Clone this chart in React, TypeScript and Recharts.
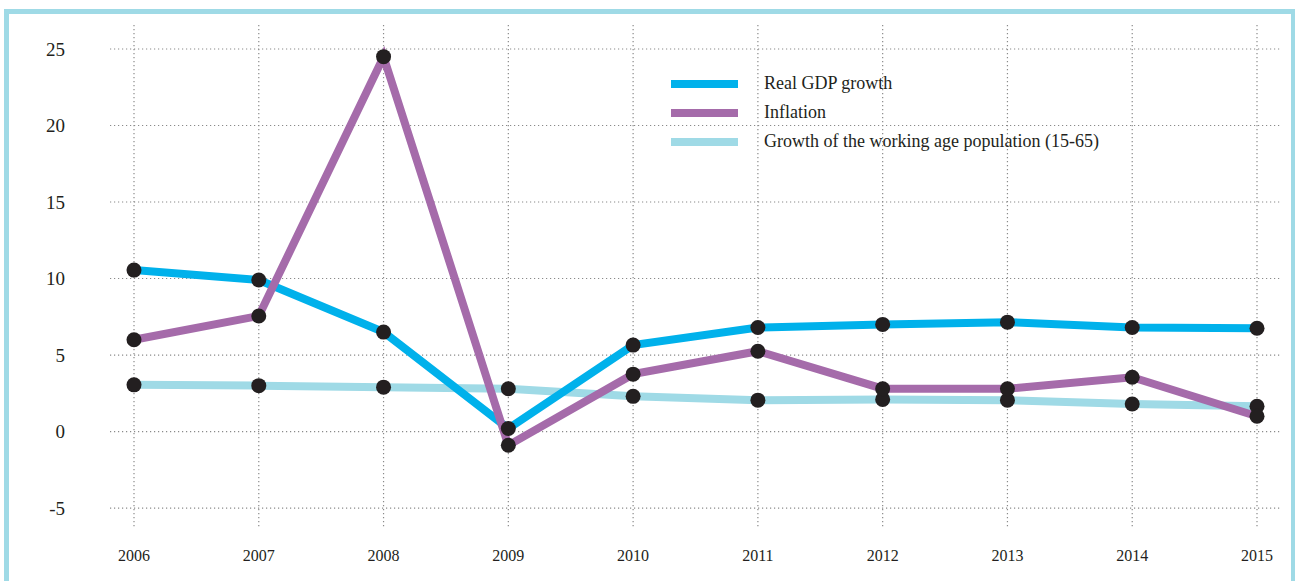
import React from 'react';
import { LineChart, Line, XAxis, YAxis, CartesianGrid, Legend } from 'recharts';

const years = ['2006', '2007', '2008', '2009', '2010', '2011', '2012', '2013', '2014', '2015'];
const gdpGrowth = [10.55, 9.9, 6.5, 0.2, 5.65, 6.8, 7.0, 7.15, 6.8, 6.75];
const inflation = [6.0, 7.55, 24.5, -0.9, 3.75, 5.25, 2.8, 2.8, 3.55, 1.0];
const workingAgePop = [3.05, 3.0, 2.9, 2.8, 2.3, 2.05, 2.1, 2.05, 1.8, 1.65];
const yTicks = [-5, 0, 5, 10, 15, 20, 25];

const seriesNames = ['Real GDP growth', 'Inflation', 'Growth of the working age population (15-65)'];
const seriesKeys = ['gdp', 'inflation', 'pop'];
const seriesColors = ['#00b1eb', '#a56baa', '#9fdae6'];

const data = years.map((year, i) => ({
  year,
  gdp: gdpGrowth[i],
  inflation: inflation[i],
  pop: workingAgePop[i],
}));

const FONT = '"Liberation Serif", "DejaVu Serif", serif';
const DOT = { r: 7.5, fill: '#231f20', stroke: 'none' };

const LegendContent = () => (
  <div style={{ fontFamily: FONT, fontSize: 18, color: '#231f20' }}>
    {seriesNames.map((name, i) => (
      <div key={name} style={{ display: 'flex', alignItems: 'center', height: 29 }}>
        <div style={{ width: 67, height: 8, background: seriesColors[i], marginRight: 26 }} />
        <span>{name}</span>
      </div>
    ))}
  </div>
);

export default function App() {
  return (
    <div style={{ position: 'absolute', left: 0, top: 0, width: 1295, height: 581, overflow: 'hidden', background: '#fff' }}>
      <div
        style={{
          position: 'absolute',
          left: 4,
          top: 9,
          width: 1292,
          height: 620,
          border: '5px solid #9fdae6',
          boxSizing: 'border-box',
        }}
      />
      <div style={{ position: 'absolute', left: 0, top: 0 }}>
        <LineChart width={1295} height={581} data={data} margin={{ top: 25, right: 15, bottom: 0, left: 0 }}>
          <CartesianGrid stroke="#8a8a8a" strokeDasharray="1.2 2.8" strokeWidth={1.2} syncWithTicks />
          <XAxis
            dataKey="year"
            padding={{ left: 24, right: 23 }}
            axisLine={false}
            tickLine={false}
            height={54}
            tickMargin={17}
            tick={{ fontFamily: FONT, fontSize: 16, fill: '#231f20' }}
            interval={0}
          />
          <YAxis
            type="number"
            domain={[-6.24, 26.57]}
            ticks={yTicks}
            width={110}
            axisLine={false}
            tickLine={false}
            tickMargin={39}
            tick={{ fontFamily: FONT, fontSize: 19, fill: '#231f20' }}
          />
          <Legend
            layout="vertical"
            align="center"
            verticalAlign="middle"
            content={<LegendContent />}
            wrapperStyle={{ top: 69, left: 671, width: 520 }}
          />
          <Line
            dataKey={seriesKeys[2]}
            name={seriesNames[2]}
            stroke={seriesColors[2]}
            strokeWidth={8}
            dot={DOT}
            activeDot={false}
            isAnimationActive={false}
          />
          <Line
            dataKey={seriesKeys[0]}
            name={seriesNames[0]}
            stroke={seriesColors[0]}
            strokeWidth={8}
            dot={DOT}
            activeDot={false}
            isAnimationActive={false}
          />
          <Line
            dataKey={seriesKeys[1]}
            name={seriesNames[1]}
            stroke={seriesColors[1]}
            strokeWidth={8}
            dot={DOT}
            activeDot={false}
            isAnimationActive={false}
          />
        </LineChart>
      </div>
    </div>
  );
}
